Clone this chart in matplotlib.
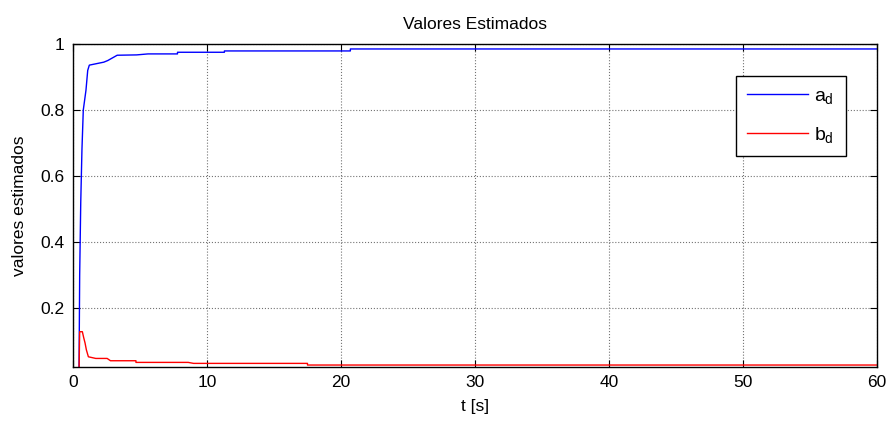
import matplotlib
matplotlib.use("Agg")
import matplotlib.pyplot as plt

plt.rcParams['font.family'] = ['Liberation Sans', 'DejaVu Sans']
plt.rcParams['mathtext.fontset'] = 'custom'
plt.rcParams['mathtext.rm'] = 'Liberation Sans'
plt.rcParams['mathtext.it'] = 'Liberation Sans'

# estimated parameter a_d
t_a = [0, 0.45, 0.5, 0.58, 0.67, 0.77, 0.97, 1.1, 1.22, 1.7, 2.3, 2.6, 3.3,
       4.75, 5.6, 7.8, 7.8, 11.3, 11.3, 20.7, 20.7, 60]
a_d = [0, 0, 0.30, 0.52, 0.68, 0.80, 0.86, 0.92, 0.936, 0.94, 0.945, 0.95, 0.966,
       0.967, 0.970, 0.970, 0.975, 0.975, 0.979, 0.979, 0.985, 0.985]

# estimated parameter b_d
t_b = [0, 0.45, 0.5, 0.7, 0.8, 0.9, 1.0, 1.15, 1.7, 2.55, 2.8, 4.7, 4.7,
       8.6, 9.0, 17.5, 17.5, 60]
b_d = [0, 0, 0.128, 0.128, 0.11, 0.094, 0.073, 0.052, 0.047, 0.047, 0.040, 0.040, 0.035,
       0.035, 0.032, 0.032, 0.027, 0.027]

fig = plt.figure(figsize=(8.91, 4.22), dpi=100)
ax = fig.add_axes([0.0819, 0.1303, 0.9024, 0.7654])

ax.plot(t_a, a_d, color='#0000ff', lw=1.0, label='$a_d$')
ax.plot(t_b, b_d, color='#ff0000', lw=1.0, label='$b_d$')

ax.set_xlim(0, 60)
ax.set_ylim(0.021, 1)
ax.set_xticks([0, 10, 20, 30, 40, 50, 60])
ax.set_yticks([0.2, 0.4, 0.6, 0.8, 1])
ax.set_yticklabels(['0.2', '0.4', '0.6', '0.8', '1'])

ax.grid(True, color='0.45', linestyle=':', linewidth=0.8)
ax.tick_params(direction='in', top=True, right=True, length=5, width=0.8,
               labelsize=12.5, pad=6)
for s in ax.spines.values():
    s.set_linewidth(1.0)
    s.set_color('black')

ax.set_title('Valores Estimados', fontsize=12.5, pad=11)
ax.set_xlabel('t [s]', fontsize=12.5, labelpad=6)
ax.set_ylabel('valores estimados', fontsize=12.5, labelpad=10)

leg = ax.legend(loc='upper right', bbox_to_anchor=(0.961, 0.901), fontsize=14,
                fancybox=False, edgecolor='black', framealpha=1,
                handlelength=3.1, labelspacing=0.95, borderpad=0.6,
                handletextpad=0.35, borderaxespad=0)
leg.get_frame().set_linewidth(1.0)

fig.savefig('out.png', dpi=100)
